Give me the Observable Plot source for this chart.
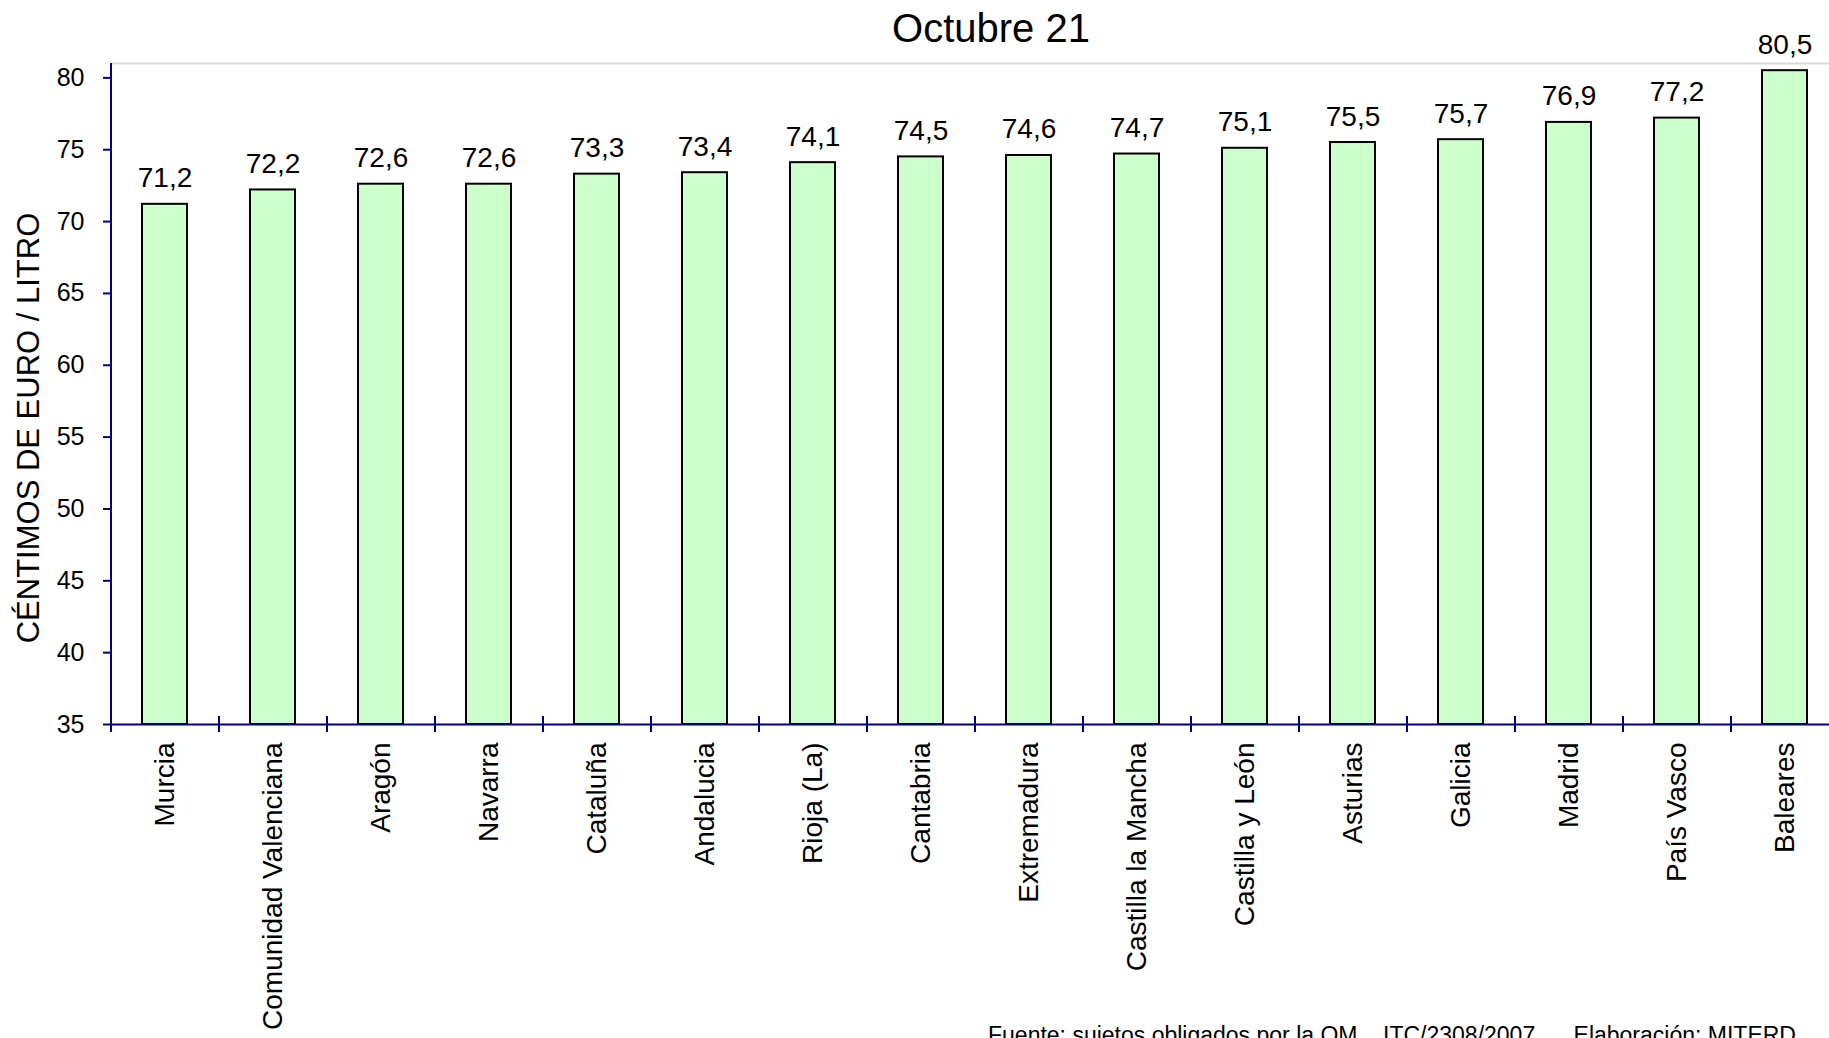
<!DOCTYPE html>
<html>
<head>
<meta charset="utf-8">
<script src="https://cdn.jsdelivr.net/npm/d3@7"></script>
<script src="https://cdn.jsdelivr.net/npm/@observablehq/plot@0.6"></script>
<style>
  html, body { margin: 0; padding: 0; background: #fff; overflow: hidden; }
  body { width: 1829px; height: 1038px; font-family: "Liberation Sans", Arial, sans-serif; }
  #title { height: 50px; line-height: 56px; font-size: 40px; color: #000; margin-left: 153px; text-align: center; white-space: nowrap; }
  #caption { height: 30px; line-height: 30px; font-size: 23px; color: #000; margin-left: 988px; white-space: pre; }
  svg { overflow: visible; display: block; }
</style>
</head>
<body>
<div id="title">Octubre 21</div>
<div id="chart"></div>
<div id="caption">Fuente: sujetos obligados por la OM    ITC/2308/2007      Elaboración: MITERD</div>
<script>
const categories = ["Murcia", "Comunidad Valenciana", "Aragón", "Navarra", "Cataluña", "Andalucia", "Rioja (La)", "Cantabria", "Extremadura", "Castilla la Mancha", "Castilla y León", "Asturias", "Galicia", "Madrid", "País Vasco", "Baleares"];
const values = [71.2, 72.2, 72.6, 72.6, 73.3, 73.4, 74.1, 74.5, 74.6, 74.7, 75.1, 75.5, 75.7, 76.9, 77.2, 80.5];
const yTicks = [35, 40, 45, 50, 55, 60, 65, 70, 75, 80];
const yDomain = [35, 81];
const yLabel = "CÉNTIMOS DE EURO / LITRO";

const data = categories.map((c, i) => ({region: c, value: values[i]}));
const fmt = v => v.toFixed(1).replace(".", ",");

const width = 1829, height = 970;
const marginLeft = 111, marginRight = -10, marginTop = 13, marginBottom = 296;
const step = (width - marginLeft - marginRight) / categories.length;
const navy = "#000080";

const chart = Plot.plot({
  width, height, marginLeft, marginRight, marginTop, marginBottom,
  style: {fontFamily: "'Liberation Sans', Arial, sans-serif", color: "#000", background: "#fff", overflow: "visible"},
  x: {domain: categories, paddingInner: 0.58, paddingOuter: 0.29, label: null},
  y: {domain: yDomain, label: null},
  marks: [
    Plot.ruleY([yDomain[1]], {stroke: "#d9d9d9", strokeWidth: 2}),
    Plot.barY(data, {x: "region", y1: yDomain[0], y2: "value", fill: "#CCFFCC", stroke: "#000", strokeWidth: 2}),
    Plot.ruleY([yDomain[0]], {stroke: navy, strokeWidth: 2}),
    Plot.ruleX([categories[0]], {x: d => d, dx: -step / 2, y1: yDomain[0], y2: yDomain[1], stroke: navy, strokeWidth: 2}),
    Plot.ruleX(categories, {x: d => d, dx: -step / 2, y1: yDomain[0], y2: yDomain[0], insetTop: -8, insetBottom: -8, stroke: navy, strokeWidth: 2}),
    Plot.axisY({ticks: yTicks, tickFormat: d => String(d), tickSize: 8, tickPadding: 19, stroke: navy, strokeWidth: 2, strokeOpacity: 1, fill: "#000", fontSize: 25, label: null}),
    Plot.axisX({tickRotate: -90, tickSize: 0, tickPadding: 18, fontSize: 28, fill: "#000", label: null}),
    Plot.text(data, {x: "region", y: "value", text: d => fmt(d.value), dy: -17, lineAnchor: "bottom", fontSize: 28, fill: "#000"}),
    Plot.text([yLabel], {text: d => d, frameAnchor: "left", textAnchor: "middle", lineAnchor: "middle", dx: -82, dy: 34, rotate: -90, fontSize: 31, fill: "#000"})
  ]
});
document.getElementById("chart").appendChild(chart);
</script>
</body>
</html>
